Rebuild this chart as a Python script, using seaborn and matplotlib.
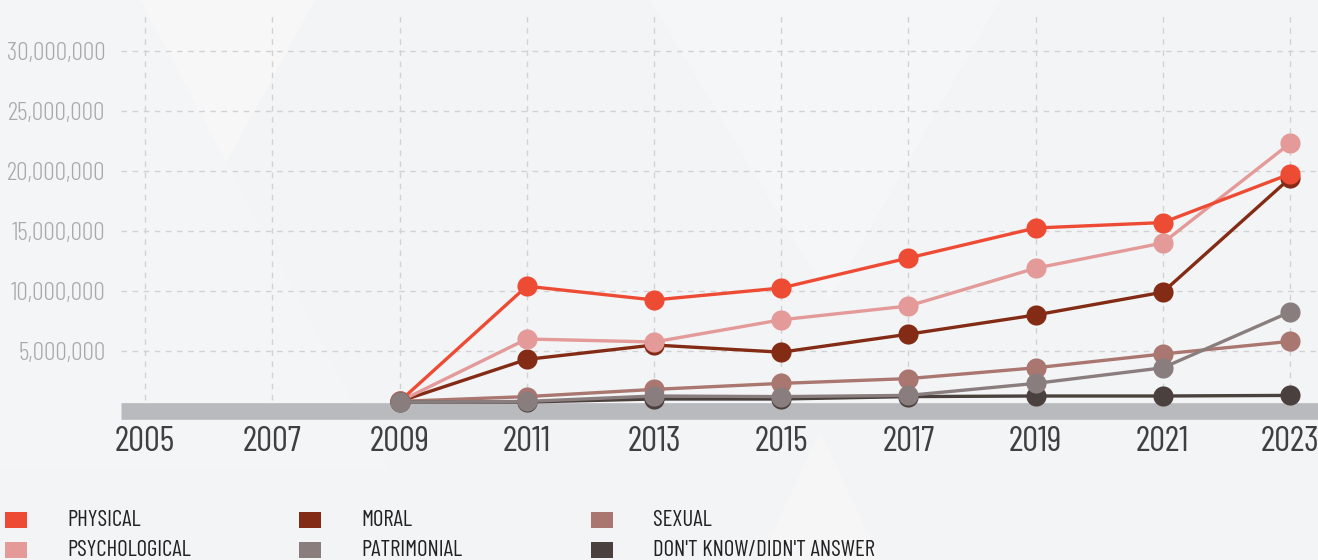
# Violence reports by type, 2009-2023: line chart with markers
import numpy as np
import pandas as pd
import matplotlib.pyplot as plt
import seaborn as sns
from matplotlib.patches import Rectangle, Polygon

years = [2009, 2011, 2013, 2015, 2017, 2019, 2021, 2023]
physical = [0.8e6, 10.4e6, 9.25e6, 10.25e6, 12.75e6, 15.25e6, 15.7e6, 19.75e6]
psychological = [0.8e6, 6.0e6, 5.75e6, 7.6e6, 8.75e6, 11.9e6, 14.0e6, 22.3e6]
moral = [0.8e6, 4.3e6, 5.5e6, 4.9e6, 6.4e6, 8.0e6, 9.9e6, 19.4e6]
sexual = [0.8e6, 1.2e6, 1.8e6, 2.3e6, 2.7e6, 3.6e6, 4.75e6, 5.8e6]
patrimonial = [0.75e6, 0.8e6, 1.25e6, 1.2e6, 1.3e6, 2.3e6, 3.6e6, 8.25e6]
dont_know = [0.75e6, 0.75e6, 1.0e6, 1.0e6, 1.2e6, 1.25e6, 1.25e6, 1.3e6]

x_ticks = [2005, 2007, 2009, 2011, 2013, 2015, 2017, 2019, 2021, 2023]
y_ticks = [5e6, 10e6, 15e6, 20e6, 25e6, 30e6]

series = {
    'PHYSICAL': (physical, '#ee4b35'),
    'PSYCHOLOGICAL': (psychological, '#e39a98'),
    'MORAL': (moral, '#832b15'),
    'PATRIMONIAL': (patrimonial, '#8a7d7d'),
    'SEXUAL': (sexual, '#a97670'),
    "DON'T KNOW/DIDN'T ANSWER": (dont_know, '#4a403e'),
}
# ordem de desenho (quem fica por cima)
draw_order = ['MORAL', 'PSYCHOLOGICAL', 'PHYSICAL', 'SEXUAL',
              "DON'T KNOW/DIDN'T ANSWER", 'PATRIMONIAL']

sns.set_style('white')
plt.rcParams['font.family'] = ['Barlow Condensed', 'DejaVu Sans']

W, H = 1318, 560
bg = '#f3f4f5'
fig = plt.figure(figsize=(W / 100, H / 100), dpi=100, facecolor=bg)

# formas claras do fundo (bem suaves)
for pts, cor in [
    ([(140, 0), (315, 0), (225, 165)], '#f7f7f8'),
    ([(0, 0), (140, 0), (390, 470), (0, 470)], '#f4f5f6'),
    ([(650, 0), (1000, 0), (830, 300)], '#f5f6f7'),
    ([(760, 560), (880, 560), (820, 430)], '#f6f6f7'),
]:
    fig.add_artist(Polygon([(px / W, 1 - py / H) for px, py in pts], closed=True,
                           transform=fig.transFigure, color=cor, lw=0, zorder=0))

ax = fig.add_axes([121 / W, 1 - 411 / H, 1 - 121 / W, (411 - 14) / H])
ax.set_facecolor('none')

for i, nome in enumerate(draw_order):
    vals, cor = series[nome]
    df = pd.DataFrame({'ano': years, 'valor': vals})
    sns.lineplot(data=df, x='ano', y='valor', color=cor, marker='o',
                 markersize=14.5, markeredgewidth=0, linewidth=2.4,
                 ax=ax, zorder=5 + i, clip_on=False)

ax.set_xlim(2004.62, 2023.44)
ax.set_ylim(0, 33.08e6)
ax.set_xticks(x_ticks)
ax.set_yticks(y_ticks)
ax.set_yticklabels([f'{int(v):,}' for v in y_ticks])
ax.set_xlabel('')
ax.set_ylabel('')

ax.grid(True, color='#d2d2d4', linestyle=(0, (4, 4)), linewidth=1.0)
ax.set_axisbelow(True)
for s in ax.spines.values():
    s.set_visible(False)

# faixa cinza do eixo x
ax.axhline(0, color='#b9babd', linewidth=12, zorder=4, clip_on=False,
           solid_capstyle='butt')

ax.tick_params(axis='y', length=0, pad=11, labelsize=18.5, labelcolor='#a9a9ab')
ax.tick_params(axis='x', length=0, pad=11, labelsize=25.5, labelcolor='#3f3f42')
for lab in ax.get_yticklabels():
    lab.set_fontweight(300)
for lab in ax.get_xticklabels():
    lab.set_fontweight(400)

# legenda manual em 2 linhas x 3 colunas
col_x = [5, 299, 591]
row_y = [520, 550]
for k, nome in enumerate(series):
    vals, cor = series[nome]
    cx = col_x[k // 2]
    cy = row_y[k % 2]
    fig.add_artist(Rectangle((cx / W, 1 - (cy + 8) / H), 22 / W, 16 / H,
                             transform=fig.transFigure, color=cor, lw=0))
    fig.text((cx + 62) / W, 1 - cy / H, nome, fontsize=16.5, color='#222224',
             va='center', ha='left', fontweight=400)

fig.savefig('out.png', dpi=100, facecolor=bg)
